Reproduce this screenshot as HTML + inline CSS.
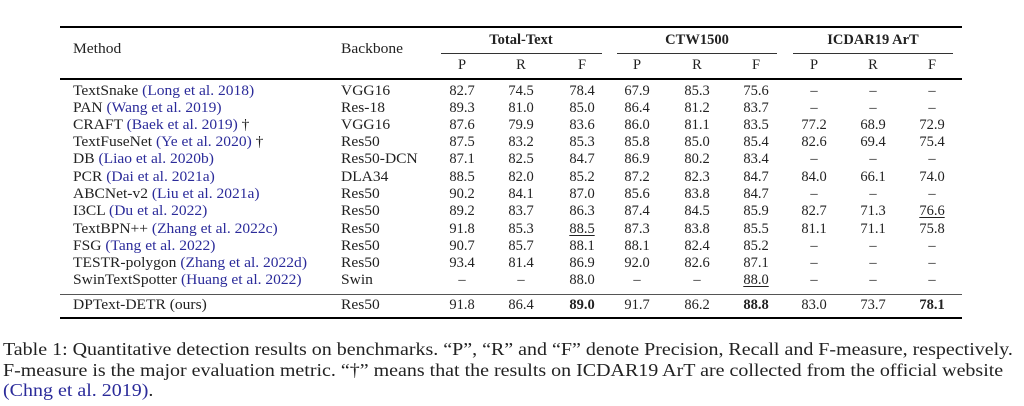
<!DOCTYPE html>
<html><head><meta charset="utf-8"><style>
body{margin:0;width:1024px;height:406px;background:#fff;position:relative;overflow:hidden;font-family:"Liberation Serif",serif;color:#222;}
.r{position:absolute;left:0;width:1024px;height:17px;font-size:14.5px;line-height:17px;}
.r span{position:absolute;white-space:nowrap;}
.r span.m{transform:scaleX(1.07);transform-origin:left center;}
.c{width:60px;text-align:center;}
.b{color:#2b2b9a;}
.hr{position:absolute;left:60px;width:902px;background:#000;}
.cm{position:absolute;height:1px;background:#333;top:53px;}
.cap{position:absolute;left:3px;font-size:18px;line-height:20px;white-space:nowrap;color:#222;transform:scaleX(1.11);transform-origin:left center;}
u{text-decoration:underline;text-underline-offset:2px;}
</style></head><body>
<div class="hr" style="top:26px;height:2px"></div>
<div class="hr" style="top:78px;height:1.5px"></div>
<div class="hr" style="top:294px;height:1px;background:#555"></div>
<div class="hr" style="top:317px;height:2px"></div>
<div class="cm" style="left:441px;width:161px"></div>
<div class="cm" style="left:617px;width:160px"></div>
<div class="cm" style="left:793px;width:160px"></div>

<div class="r" style="top:41px"><span class="m" style="left:73px">Method</span><span class="m" style="left:341px">Backbone</span></div>
<div class="r" style="top:32px;font-weight:bold"><span style="left:461px;width:120px;text-align:center">Total-Text</span><span style="left:637px;width:120px;text-align:center">CTW1500</span><span style="left:812px;width:122px;text-align:center">ICDAR19 ArT</span></div>
<div class="r" style="top:57px"><span class="c" style="left:432px">P</span><span class="c" style="left:491px">R</span><span class="c" style="left:552px">F</span><span class="c" style="left:607px">P</span><span class="c" style="left:667px">R</span><span class="c" style="left:726px">F</span><span class="c" style="left:784px">P</span><span class="c" style="left:843px">R</span><span class="c" style="left:902px">F</span></div>

<div class="r" style="top:83px"><span class="m" style="left:73px">TextSnake <span class="b" style="position:static">(Long et al. 2018)</span></span><span class="m" style="left:341px">VGG16</span><span class="c" style="left:432px">82.7</span><span class="c" style="left:491px">74.5</span><span class="c" style="left:552px">78.4</span><span class="c" style="left:607px">67.9</span><span class="c" style="left:667px">85.3</span><span class="c" style="left:726px">75.6</span><span class="c" style="left:784px">–</span><span class="c" style="left:843px">–</span><span class="c" style="left:902px">–</span></div>
<div class="r" style="top:100px"><span class="m" style="left:73px">PAN <span class="b" style="position:static">(Wang et al. 2019)</span></span><span class="m" style="left:341px">Res-18</span><span class="c" style="left:432px">89.3</span><span class="c" style="left:491px">81.0</span><span class="c" style="left:552px">85.0</span><span class="c" style="left:607px">86.4</span><span class="c" style="left:667px">81.2</span><span class="c" style="left:726px">83.7</span><span class="c" style="left:784px">–</span><span class="c" style="left:843px">–</span><span class="c" style="left:902px">–</span></div>
<div class="r" style="top:117px"><span class="m" style="left:73px">CRAFT <span class="b" style="position:static">(Baek et al. 2019)</span> †</span><span class="m" style="left:341px">VGG16</span><span class="c" style="left:432px">87.6</span><span class="c" style="left:491px">79.9</span><span class="c" style="left:552px">83.6</span><span class="c" style="left:607px">86.0</span><span class="c" style="left:667px">81.1</span><span class="c" style="left:726px">83.5</span><span class="c" style="left:784px">77.2</span><span class="c" style="left:843px">68.9</span><span class="c" style="left:902px">72.9</span></div>
<div class="r" style="top:134px"><span class="m" style="left:73px">TextFuseNet <span class="b" style="position:static">(Ye et al. 2020)</span> †</span><span class="m" style="left:341px">Res50</span><span class="c" style="left:432px">87.5</span><span class="c" style="left:491px">83.2</span><span class="c" style="left:552px">85.3</span><span class="c" style="left:607px">85.8</span><span class="c" style="left:667px">85.0</span><span class="c" style="left:726px">85.4</span><span class="c" style="left:784px">82.6</span><span class="c" style="left:843px">69.4</span><span class="c" style="left:902px">75.4</span></div>
<div class="r" style="top:151px"><span class="m" style="left:73px">DB <span class="b" style="position:static">(Liao et al. 2020b)</span></span><span class="m" style="left:341px">Res50-DCN</span><span class="c" style="left:432px">87.1</span><span class="c" style="left:491px">82.5</span><span class="c" style="left:552px">84.7</span><span class="c" style="left:607px">86.9</span><span class="c" style="left:667px">80.2</span><span class="c" style="left:726px">83.4</span><span class="c" style="left:784px">–</span><span class="c" style="left:843px">–</span><span class="c" style="left:902px">–</span></div>
<div class="r" style="top:169px"><span class="m" style="left:73px">PCR <span class="b" style="position:static">(Dai et al. 2021a)</span></span><span class="m" style="left:341px">DLA34</span><span class="c" style="left:432px">88.5</span><span class="c" style="left:491px">82.0</span><span class="c" style="left:552px">85.2</span><span class="c" style="left:607px">87.2</span><span class="c" style="left:667px">82.3</span><span class="c" style="left:726px">84.7</span><span class="c" style="left:784px">84.0</span><span class="c" style="left:843px">66.1</span><span class="c" style="left:902px">74.0</span></div>
<div class="r" style="top:186px"><span class="m" style="left:73px">ABCNet-v2 <span class="b" style="position:static">(Liu et al. 2021a)</span></span><span class="m" style="left:341px">Res50</span><span class="c" style="left:432px">90.2</span><span class="c" style="left:491px">84.1</span><span class="c" style="left:552px">87.0</span><span class="c" style="left:607px">85.6</span><span class="c" style="left:667px">83.8</span><span class="c" style="left:726px">84.7</span><span class="c" style="left:784px">–</span><span class="c" style="left:843px">–</span><span class="c" style="left:902px">–</span></div>
<div class="r" style="top:203px"><span class="m" style="left:73px">I3CL <span class="b" style="position:static">(Du et al. 2022)</span></span><span class="m" style="left:341px">Res50</span><span class="c" style="left:432px">89.2</span><span class="c" style="left:491px">83.7</span><span class="c" style="left:552px">86.3</span><span class="c" style="left:607px">87.4</span><span class="c" style="left:667px">84.5</span><span class="c" style="left:726px">85.9</span><span class="c" style="left:784px">82.7</span><span class="c" style="left:843px">71.3</span><span class="c" style="left:902px"><u>76.6</u></span></div>
<div class="r" style="top:221px"><span class="m" style="left:73px">TextBPN++ <span class="b" style="position:static">(Zhang et al. 2022c)</span></span><span class="m" style="left:341px">Res50</span><span class="c" style="left:432px">91.8</span><span class="c" style="left:491px">85.3</span><span class="c" style="left:552px"><u>88.5</u></span><span class="c" style="left:607px">87.3</span><span class="c" style="left:667px">83.8</span><span class="c" style="left:726px">85.5</span><span class="c" style="left:784px">81.1</span><span class="c" style="left:843px">71.1</span><span class="c" style="left:902px">75.8</span></div>
<div class="r" style="top:238px"><span class="m" style="left:73px">FSG <span class="b" style="position:static">(Tang et al. 2022)</span></span><span class="m" style="left:341px">Res50</span><span class="c" style="left:432px">90.7</span><span class="c" style="left:491px">85.7</span><span class="c" style="left:552px">88.1</span><span class="c" style="left:607px">88.1</span><span class="c" style="left:667px">82.4</span><span class="c" style="left:726px">85.2</span><span class="c" style="left:784px">–</span><span class="c" style="left:843px">–</span><span class="c" style="left:902px">–</span></div>
<div class="r" style="top:255px"><span class="m" style="left:73px">TESTR-polygon <span class="b" style="position:static">(Zhang et al. 2022d)</span></span><span class="m" style="left:341px">Res50</span><span class="c" style="left:432px">93.4</span><span class="c" style="left:491px">81.4</span><span class="c" style="left:552px">86.9</span><span class="c" style="left:607px">92.0</span><span class="c" style="left:667px">82.6</span><span class="c" style="left:726px">87.1</span><span class="c" style="left:784px">–</span><span class="c" style="left:843px">–</span><span class="c" style="left:902px">–</span></div>
<div class="r" style="top:272px"><span class="m" style="left:73px">SwinTextSpotter <span class="b" style="position:static">(Huang et al. 2022)</span></span><span class="m" style="left:341px">Swin</span><span class="c" style="left:432px">–</span><span class="c" style="left:491px">–</span><span class="c" style="left:552px">88.0</span><span class="c" style="left:607px">–</span><span class="c" style="left:667px">–</span><span class="c" style="left:726px"><u>88.0</u></span><span class="c" style="left:784px">–</span><span class="c" style="left:843px">–</span><span class="c" style="left:902px">–</span></div>
<div class="r" style="top:297px"><span class="m" style="left:73px">DPText-DETR (ours)</span><span class="m" style="left:341px">Res50</span><span class="c" style="left:432px">91.8</span><span class="c" style="left:491px">86.4</span><span class="c" style="left:552px"><b>89.0</b></span><span class="c" style="left:607px">91.7</span><span class="c" style="left:667px">86.2</span><span class="c" style="left:726px"><b>88.8</b></span><span class="c" style="left:784px">83.0</span><span class="c" style="left:843px">73.7</span><span class="c" style="left:902px"><b>78.1</b></span></div>

<div class="cap" style="top:339px">Table 1: Quantitative detection results on benchmarks. “P”, “R” and “F” denote Precision, Recall and F-measure, respectively.</div>
<div class="cap" style="top:360px">F-measure is the major evaluation metric. “†” means that the results on ICDAR19 ArT are collected from the official website</div>
<div class="cap" style="top:380px"><span class="b">(Chng et al. 2019)</span>.</div>
</body></html>
